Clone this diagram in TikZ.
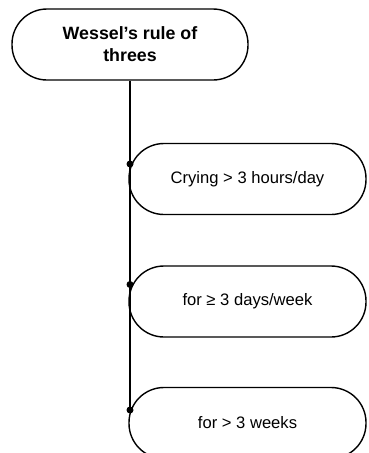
\documentclass[tikz,border=0pt]{standalone}
\usepackage{fontspec}
\setmainfont{Liberation Sans}
\begin{document}
\begin{tikzpicture}[x=1pt,y=-1pt,
  pill/.style={draw, line width=1.4pt, rectangle, rounded corners=35pt,
    minimum width=237pt, minimum height=71pt, align=center,
    font=\fontsize{16.6}{22}\selectfont, inner sep=0pt},
  spine/.style={line width=1.4pt},
  knot/.style={fill=black, circle, inner sep=0pt, minimum size=7pt}]
  \useasboundingbox (0,0) rectangle (369,453);
  % heading and the three criteria
  \node[pill, minimum width=236pt, font=\bfseries\fontsize{17.8}{22}\selectfont] (head) at (130,44.5) {Wessel’s rule of\\threes};
  \node[pill] (c1) at (247.5,179) {Crying > 3 hours/day};
  \node[pill] (c2) at (247.5,301.5) {for ≥ 3 days/week};
  \node[pill] (c3) at (247.5,423) {for > 3 weeks};
  % joints on the vertical spine
  \coordinate (j1) at ([yshift=15pt]head.south |- c1.center);
  \coordinate (j2) at ([yshift=17pt]head.south |- c2.center);
  \coordinate (j3) at ([yshift=13pt]head.south |- c3.center);
  \draw[spine] (head.south) -- (j3);
  \foreach \j in {j1,j2,j3} \node[knot] at (\j) {};
\end{tikzpicture}
\end{document}
